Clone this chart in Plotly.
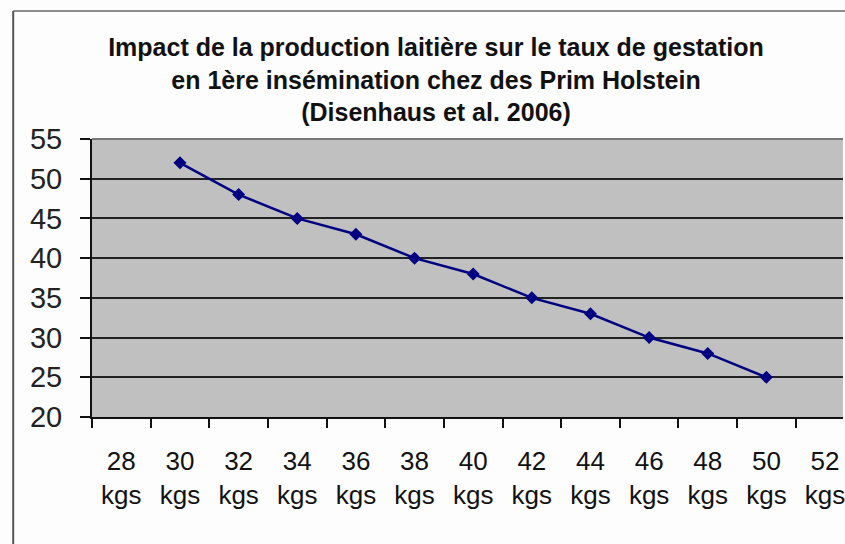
import plotly.graph_objects as go

categories = ["28", "30", "32", "34", "36", "38", "40", "42", "44", "46", "48", "50", "52"]
tick_labels = [c + "<br>kgs" for c in categories]
taux_gestation = [None, 52, 48, 45, 43, 40, 38, 35, 33, 30, 28, 25, None]
y_ticks = [20, 25, 30, 35, 40, 45, 50, 55]

title_lines = [
    "Impact de la production laitière sur le taux de gestation",
    "en 1ère insémination chez des Prim Holstein",
    "(Disenhaus et al. 2006)",
]

W, H = 845, 544
L, T = 92, 139
B = H - 417
cat_w = 58.8
x_right = (W - L) / cat_w - 0.5

fig = go.Figure()
fig.add_trace(go.Scatter(
    x=tick_labels, y=taux_gestation, mode="lines+markers",
    line=dict(color="#000080", width=2.5),
    marker=dict(symbol="diamond", size=10, color="#000080"),
    showlegend=False, cliponaxis=False,
))

font = "Liberation Sans Narrow, Arial Narrow, Liberation Sans, Arial, sans-serif"

ph = H - T - B
pw = W - L
bx = (13 - L) / pw
by = (H - 11 - B) / ph

fig.update_layout(
    width=W, height=H,
    margin=dict(l=L, r=0, t=T, b=B, pad=0),
    paper_bgcolor="#fdfdfd", plot_bgcolor="#c0c0c0",
    title=dict(
        text="<b>" + "<br>".join(title_lines) + "</b>",
        x=436 / W, xref="container", xanchor="center",
        y=1 - 56 / H, yref="container", yanchor="middle",
        font=dict(family=font, size=25, color="#111"),
    ),
    xaxis=dict(
        type="category", categoryorder="array", categoryarray=tick_labels,
        range=[-0.5, x_right],
        tickson="boundaries", ticks="outside", ticklen=9, tickcolor="#111", tickwidth=1.5,
        showline=True, linecolor="#111", linewidth=2,
        showgrid=False,
        tickfont=dict(family=font, size=26, color="#111"),
        ticklabelstandoff=20,
    ),
    yaxis=dict(
        range=[20, 55], tickvals=y_ticks,
        ticks="outside", ticklen=10, tickcolor="#111", tickwidth=1.5,
        showline=True, linecolor="#111", linewidth=2,
        showgrid=True, gridcolor="#222", gridwidth=2,
        tickfont=dict(family="Liberation Sans, Arial, sans-serif", size=29, color="#222"),
        ticklabelstandoff=12, zeroline=False,
    ),
    shapes=[
        dict(type="line", xref="paper", yref="paper", x0=0, x1=1, y0=1, y1=1,
             line=dict(color="#777", width=2)),
        dict(type="line", xref="paper", yref="paper",
             x0=bx, x1=bx, y0=by, y1=-B / ph - 0.05,
             line=dict(color="#555", width=2)),
        dict(type="line", xref="paper", yref="paper",
             x0=bx, x1=1.05, y0=by, y1=by,
             line=dict(color="#666", width=1.5)),
    ],
)

fig.write_html(
    "out.html",
    config={"displayModeBar": False},
    post_script="document.documentElement.style.overflow='hidden';"
                "document.body.style.margin='0';document.body.style.overflow='hidden';",
)
